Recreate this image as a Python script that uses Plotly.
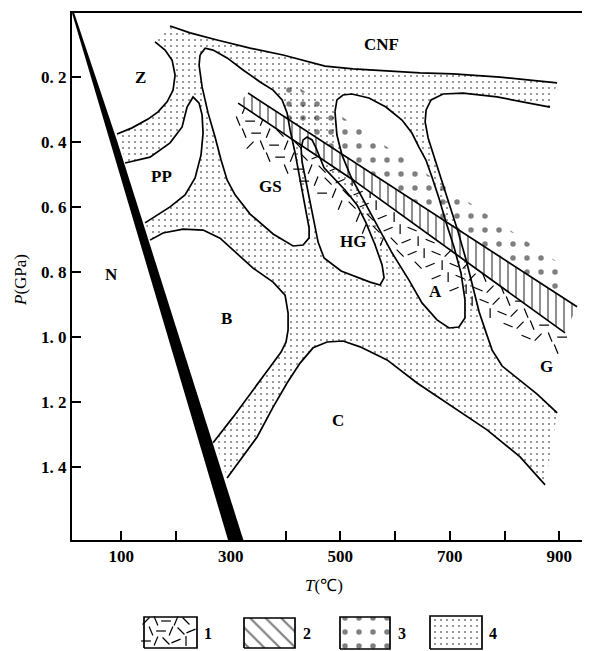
import plotly.graph_objects as go

# ---------------- axes ----------------
T_MIN, T_MAX = 10, 952.5
P_TOP, P_BOTTOM = 0.004, 1.6236
x_ticks = [100, 200, 300, 400, 500, 600, 700, 800, 900]
x_tick_text = ["100", "", "300", "", "500", "", "700", "", "900"]
y_ticks = [0.2, 0.4, 0.6, 0.8, 1.0, 1.2, 1.4]
y_tick_text = ["0. 2", "0. 4", "0. 6", "0. 8", "1. 0", "1. 2", "1. 4"]

# ---------------- boundaries (T in degC, P in GPa) ----------------
n_T = [10, 14, 92, 323, 295]
n_P = [0.004, 0.004, 0.395, 1.6236, 1.6236]

cnf_T = [189.1, 225.7, 275.0, 335.3, 395.5, 472.2, 523.4, 585.5, 645.8, 706.0, 791.9, 846.7, 896.0]
cnf_P = [0.044, 0.065, 0.087, 0.112, 0.133, 0.167, 0.176, 0.182, 0.188, 0.191, 0.201, 0.210, 0.219]

z_T = [161.7, 180.0, 192.8, 198.3, 194.6, 183.7, 167.2, 148.9, 119.7, 92.3]
z_P = [0.093, 0.118, 0.149, 0.195, 0.241, 0.277, 0.308, 0.330, 0.357, 0.376]

pp_T = [106.9, 152.5, 189.1, 211.1, 220.2, 231.1, 242.1, 247.6, 249.4, 245.7, 234.8, 216.5, 189.1, 161.7, 143.4]
pp_P = [0.465, 0.447, 0.403, 0.354, 0.293, 0.262, 0.281, 0.317, 0.373, 0.440, 0.511, 0.563, 0.600, 0.628, 0.649]

b_T = [152.5, 176.3, 212.8, 249.4, 280.4, 311.5, 340.7, 377.3, 399.2, 404.7, 404.7, 401.0, 391.9, 371.8, 340.7, 304.2, 267.7]
b_P = [0.702, 0.680, 0.668, 0.671, 0.696, 0.742, 0.788, 0.831, 0.871, 0.926, 0.978, 1.015, 1.046, 1.092, 1.163, 1.246, 1.325]

c_T = [293.3, 317.0, 348.1, 377.3, 402.8, 426.6, 450.3, 475.9, 505.1, 536.2, 585.5, 640.3, 706.0, 768.1, 828.4, 874.1]
c_P = [1.433, 1.378, 1.307, 1.215, 1.141, 1.080, 1.033, 1.015, 1.012, 1.030, 1.070, 1.141, 1.215, 1.285, 1.368, 1.454]

g_T = [883.2, 846.7, 786.4, 724.3, 687.8, 665.9, 656.8, 655.0, 660.5, 673.3, 686.1, 700.7, 715.3, 729.9, 740.9,
       753.7, 766.5, 777.4, 795.7, 823.1, 859.6, 896.2]
g_P = [0.293, 0.281, 0.262, 0.250, 0.253, 0.271, 0.302, 0.339, 0.388, 0.456, 0.523, 0.594, 0.677, 0.763, 0.840,
       0.923, 0.987, 1.040, 1.089, 1.126, 1.175, 1.233]

gs_T = [243.9, 253.1, 267.7, 293.3, 322.5, 353.6, 377.3, 393.8, 402.9, 408.4, 417.5, 424.8, 432.1, 437.6, 443.1,
        443.1, 432.1, 413.8, 377.3, 335.3, 307.9, 293.3, 282.3, 271.3, 258.5, 247.6, 242.1]
gs_P = [0.133, 0.112, 0.118, 0.142, 0.179, 0.216, 0.241, 0.271, 0.311, 0.364, 0.434, 0.502, 0.569, 0.619, 0.665,
        0.695, 0.717, 0.720, 0.683, 0.622, 0.563, 0.517, 0.456, 0.385, 0.311, 0.231, 0.164]

hg_T = [428.4, 432.1, 439.4, 448.5, 455.8, 470.4, 508.7, 530.7, 547.1, 563.6, 576.4, 580.0, 572.7, 554.4, 501.5,
        470.4, 459.5, 452.2, 443.1, 435.8, 430.3]
hg_P = [0.419, 0.394, 0.385, 0.394, 0.419, 0.480, 0.548, 0.594, 0.649, 0.717, 0.778, 0.818, 0.840, 0.831, 0.797,
        0.757, 0.708, 0.646, 0.579, 0.517, 0.462]

a_T = [490.3, 493.9, 504.9, 521.3, 552.4, 583.4, 612.7, 630.9, 643.7, 656.5, 667.5, 680.3, 693.0, 707.7, 720.5,
       727.8, 727.8, 716.8, 698.6, 676.7, 649.3, 625.5, 594.5, 567.1, 543.3, 519.6, 503.1, 493.9]
a_P = [0.308, 0.271, 0.256, 0.253, 0.265, 0.293, 0.333, 0.373, 0.416, 0.456, 0.508, 0.573, 0.646, 0.723, 0.803,
       0.886, 0.941, 0.969, 0.972, 0.947, 0.895, 0.825, 0.741, 0.655, 0.579, 0.508, 0.440, 0.379]

# hatched band (pattern 2) upper / lower lines
ul_T = [331.6, 932.5]
ul_P = [0.250, 0.907]
ll_T = [313.4, 523.4, 910.5]
ll_P = [0.281, 0.517, 0.987]

# large-dot zone (pattern 3)
dots_T = [393.6, 901.4, 901.4, 393.6]
dots_P = [0.198, 0.775, 0.874, 0.318]

# dash zone (pattern 1)
dash_T = [313.4, 523.4, 910.5, 892.3, 724.3, 302.5]
dash_P = [0.281, 0.517, 0.987, 1.055, 0.895, 0.370]

# field labels
lab_text = ["Z", "PP", "GS", "N", "B", "HG", "A", "G", "C", "CNF"]
lab_T = [134.3, 173.9, 371.8, 82.6, 292.7, 524.0, 673.1, 877.1, 496.5, 575.8]
lab_P = [0.201, 0.507, 0.538, 0.809, 0.942, 0.707, 0.860, 1.091, 1.255, 0.102]

legend_labels = ["1", "2", "3", "4"]

# ---------------- figure geometry ----------------
OFF = 8                      # default page (body) margin of the html page
W, H = 590 - OFF, 651 - OFF  # figure fits the window
ML, MR, MT, MB = 72 - OFF, 2, 13 - OFF, 0
plot_w = W - ML - MR
plot_h = H - MT - MB
main_bottom = (651 - 540) / plot_h
leg_top = 40 / plot_h


def px_x(page_x):
    return (page_x - OFF - ML) / plot_w


def px_y(page_y):
    return (651 - page_y) / plot_h


FONT = "Liberation Serif"
fig = go.Figure()


def closed(T, P):
    return list(T) + [T[0]], list(P) + [P[0]]


def area(T, P, fillcolor, pattern=None, xa="x", ya="y"):
    X, Y = closed(T, P)
    kw = dict(x=X, y=Y, mode="lines", fill="toself", fillcolor=fillcolor,
              line=dict(width=0, color="rgba(0,0,0,0)"), hoverinfo="skip",
              showlegend=False, xaxis=xa, yaxis=ya)
    if pattern:
        kw["fillpattern"] = pattern
    fig.add_trace(go.Scatter(**kw))


def line(T, P, close=False, width=1.7, xa="x", ya="y"):
    X, Y = (closed(T, P) if close else (list(T), list(P)))
    fig.add_trace(go.Scatter(x=X, y=Y, mode="lines", line=dict(color="black", width=width),
                             hoverinfo="skip", showlegend=False, xaxis=xa, yaxis=ya))


def inside(px, py, poly):
    res = False
    n = len(poly)
    for i in range(n):
        x1, y1 = poly[i]
        x2, y2 = poly[(i + 1) % n]
        if (y1 > py) != (y2 > py):
            xc = x1 + (py - y1) * (x2 - x1) / (y2 - y1)
            if px < xc:
                res = not res
    return res


def dash_texture(T, P, sx, sy, step):
    """regular texture of short dashes filling a polygon (pattern 1)."""
    poly = [(t * sx, p * sy) for t, p in zip(T, P)]
    x0, x1 = min(q[0] for q in poly), max(q[0] for q in poly)
    y0, y1 = min(q[1] for q in poly), max(q[1] for q in poly)
    xs, ys, ang = [], [], []
    j = 0
    v = y0 + step / 2
    while v <= y1:
        u = x0 + (step / 2 if j % 2 else 0)
        i = 0
        while u <= x1:
            if inside(u, v, poly):
                xs.append(u / sx)
                ys.append(v / sy)
                ang.append(((i * 5 + j * 3) % 8) * 22.5)
            u += step
            i += 1
        v += step
        j += 1
    return xs, ys, ang


SX = 0.5475   # px per degC
SY = 325.4    # px per GPa

stipple = dict(shape=".", size=6, solidity=0.1, fgcolor="black", bgcolor="white")
bigdots = dict(shape=".", size=14, solidity=0.12, fgcolor="black", bgcolor="rgba(0,0,0,0)")
hatch_v = dict(shape="|", size=8, solidity=0.22, fgcolor="black", bgcolor="white")
dash_marker = dict(symbol="line-ew", size=7, color="black", line=dict(width=1.2, color="black"))

# stipple (pattern 4) region
st_T = cnf_T + g_T + c_T[::-1] + z_T[::-1]
st_P = cnf_P + g_P + c_P[::-1] + z_P[::-1]
area(st_T, st_P, "white", stipple)

# white fields
for T, P in [(pp_T, pp_P), (b_T, b_P), (gs_T, gs_P), (hg_T, hg_P), (a_T, a_P)]:
    area(T, P, "white")

# dashes (pattern 1)
dx, dy, da = dash_texture(dash_T, dash_P, SX, SY, 12)
fig.add_trace(go.Scatter(x=dx, y=dy, mode="markers", hoverinfo="skip", showlegend=False,
                         marker=dict(dash_marker, angle=da)))

# large dots (pattern 3)
area(dots_T, dots_P, "rgba(0,0,0,0)", bigdots)

# hatched band (pattern 2)
band_T = ul_T + ll_T[::-1]
band_P = ul_P + ll_P[::-1]
area(band_T, band_P, "white", hatch_v)

# outlines
for T, P in [(cnf_T, cnf_P), (g_T, g_P), (c_T, c_P), (b_T, b_P), (pp_T, pp_P), (z_T, z_P),
             (ul_T, ul_P), (ll_T, ll_P)]:
    line(T, P)
for T, P in [(gs_T, gs_P), (hg_T, hg_P), (a_T, a_P)]:
    line(T, P, close=True)

# N thick boundary
area(n_T, n_P, "black")

# labels
annotations = []
for txt, t, p in zip(lab_text, lab_T, lab_P):
    annotations.append(dict(x=t, y=p, xref="x", yref="y", text="<b>%s</b>" % txt, showarrow=False,
                            xanchor="center", yanchor="middle",
                            font=dict(family=FONT, size=17, color="black")))

annotations.append(dict(x=px_x(324), y=px_y(585), xref="paper", yref="paper",
                        text="<i>T</i>(\u2103)", showarrow=False, xanchor="center", yanchor="middle",
                        font=dict(family=FONT, size=17, color="black")))
annotations.append(dict(x=px_x(20), y=px_y(280), xref="paper", yref="paper",
                        text="<i>P</i>(GPa)", textangle=-90, showarrow=False,
                        xanchor="center", yanchor="middle",
                        font=dict(family=FONT, size=17, color="black")))

# ---------------- legend (own axis; x in page px, y in px above window bottom) ----------------
leg_boxes = [(144, 197, 3, 34), (244, 295, 3, 33), (340, 390, 2, 34), (430, 482, 2, 35)]
leg_lab_x = [208, 307, 402, 493]
x0, x1, y0, y1 = leg_boxes[0]
lx, ly, la = dash_texture([x0 + 2, x1 - 2, x1 - 2, x0 + 2], [y0 + 2, y0 + 2, y1 - 2, y1 - 2], 1, 1, 10)
fig.add_trace(go.Scatter(x=lx, y=ly, mode="markers", xaxis="x2", yaxis="y2", hoverinfo="skip",
                         showlegend=False, marker=dict(dash_marker, angle=la)))
pats = [None, dict(shape="\\", size=11, solidity=0.2, fgcolor="black", bgcolor="white"),
        dict(shape=".", size=14, solidity=0.12, fgcolor="black", bgcolor="white"),
        dict(shape=".", size=6, solidity=0.1, fgcolor="black", bgcolor="white")]
for k, (x0, x1, y0, y1) in enumerate(leg_boxes):
    if pats[k] is not None:
        area([x0, x1, x1, x0], [y0, y0, y1, y1], "white", pats[k], xa="x2", ya="y2")
    line([x0, x1, x1, x0], [y0, y0, y1, y1], close=True, width=1.7, xa="x2", ya="y2")
    annotations.append(dict(x=leg_lab_x[k], y=18, xref="x2", yref="y2", text="<b>%s</b>" % legend_labels[k],
                            showarrow=False, xanchor="center", yanchor="middle",
                            font=dict(family=FONT, size=16, color="black")))

tick_font = dict(family=FONT, size=17, color="black", weight="bold")
fig.update_layout(
    width=W, height=H, margin=dict(l=ML, r=MR, t=MT, b=MB, autoexpand=False),
    paper_bgcolor="white", plot_bgcolor="white", showlegend=False,
    annotations=annotations,
    xaxis=dict(domain=[0, 1], range=[T_MIN, T_MAX], showgrid=False, zeroline=False,
               showline=True, linecolor="black", linewidth=2, mirror=True,
               ticks="inside", ticklen=9, tickwidth=1.5, tickcolor="black",
               tickvals=x_ticks, ticktext=x_tick_text, tickfont=tick_font, anchor="y"),
    yaxis=dict(domain=[main_bottom, 1], range=[P_BOTTOM, P_TOP], showgrid=False, zeroline=False,
               showline=True, linecolor="black", linewidth=2,
               ticks="inside", ticklen=9, tickwidth=1.5, tickcolor="black",
               tickvals=y_ticks, ticktext=y_tick_text, tickfont=tick_font, anchor="x"),
    xaxis2=dict(domain=[0, 1], range=[72, 588], visible=False, anchor="y2"),
    yaxis2=dict(domain=[0, leg_top], range=[0, 40], visible=False, anchor="x2"),
    shapes=[dict(type="line", xref="x", yref="y", x0=T_MAX, x1=T_MAX, y0=1.38, y1=P_BOTTOM,
                 line=dict(color="black", width=1.5))],
)

fig.write_html("out.html")
